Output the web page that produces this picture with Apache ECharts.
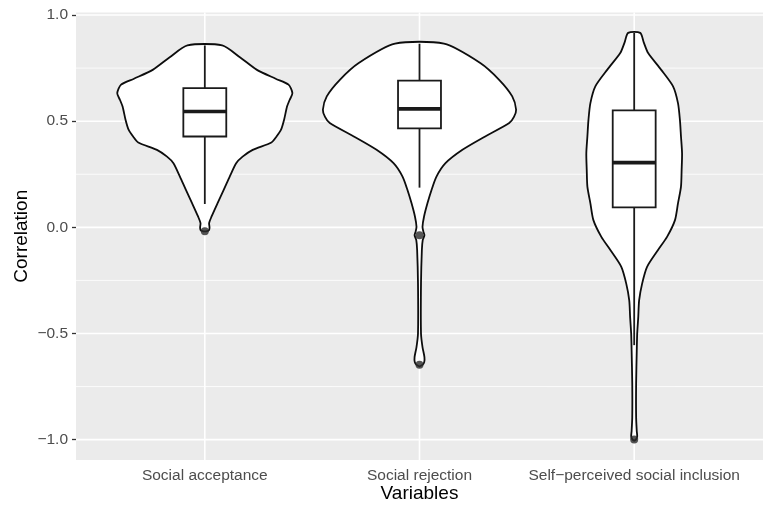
<!DOCTYPE html>
<html lang="en">
	<head>
		<meta charset="UTF-8">
		<title>Violin</title>
		<script src="https://cdn.jsdelivr.net/npm/echarts@6/dist/echarts.min.js"></script>
		<style>
			html, body { margin: 0; padding: 0; background: #fff; }
			#chart { width: 768px; height: 513px; }
		</style>
	</head>
	<body>
		<div id="chart"></div>
		<script>
			// categories and axis ticks
			const categories = ['Social acceptance', 'Social rejection', 'Self\u2212perceived social inclusion'];
			const yTicks = [-1.0, -0.5, 0.0, 0.5, 1.0];
			const yMinor = [-0.75, -0.25, 0.25, 0.75];
			const xTicks = [1, 2, 3];

			// violin outlines: [correlation, half width of density]
			const violinAcceptance = [
				[0.857, 0.081], [0.80, 0.165], [0.743, 0.241], [0.70, 0.33], [0.672, 0.39], [0.632, 0.408],
				[0.60, 0.395], [0.569, 0.383], [0.506, 0.369], [0.46, 0.355], [0.428, 0.334], [0.40, 0.31],
				[0.365, 0.223], [0.333, 0.176], [0.302, 0.146], [0.239, 0.116], [0.176, 0.088], [0.113, 0.059],
				[0.05, 0.031], [0.02, 0.02], [0.0, 0.022], [-0.012, 0.02], [-0.018, 0.01]
			];
			const violinRejection = [
				[0.865, 0.114], [0.774, 0.283], [0.695, 0.371], [0.617, 0.432], [0.554, 0.45], [0.52, 0.44],
				[0.491, 0.418], [0.428, 0.306], [0.365, 0.2], [0.302, 0.121], [0.239, 0.079], [0.176, 0.056],
				[0.113, 0.037], [0.05, 0.021], [0.003, 0.014], [-0.02, 0.018], [-0.037, 0.023], [-0.06, 0.015],
				[-0.107, 0.011], [-0.265, 0.007], [-0.5, 0.007], [-0.564, 0.014], [-0.611, 0.023], [-0.635, 0.022],
				[-0.648, 0.014], [-0.655, 0.0]
			];
			const violinInclusion = [
				[0.916, 0.028], [0.87, 0.045], [0.821, 0.065], [0.743, 0.125], [0.664, 0.181], [0.585, 0.204],
				[0.506, 0.213], [0.428, 0.218], [0.349, 0.223], [0.27, 0.221], [0.192, 0.218], [0.113, 0.204],
				[0.034, 0.19], [-0.045, 0.153], [-0.107, 0.111], [-0.186, 0.06], [-0.265, 0.037], [-0.344, 0.023],
				[-0.422, 0.019], [-0.501, 0.014], [-0.58, 0.012], [-0.736, 0.009], [-0.894, 0.009], [-0.96, 0.012],
				[-0.985, 0.014], [-1.0, 0.008], [-1.005, 0.0]
			];

			// box stats: [lower whisker, q1, median, q3, upper whisker]
			const boxAcceptance = [0.11, 0.428, 0.546, 0.656, 0.857];
			const boxRejection = [0.187, 0.466, 0.558, 0.691, 0.865];
			const boxInclusion = [-0.555, 0.094, 0.305, 0.551, 0.916];

			// outliers: [category position, correlation]
			const outliers = [[1, -0.018], [2, -0.037], [2, -0.647], [3, -1.0]];

			const violins = [violinAcceptance, violinRejection, violinInclusion];
			const boxes = [boxAcceptance, boxRejection, boxInclusion];

			const xMin = 0.4, xMax = 3.6;
			const yMin = -1.096, yMax = 1.012;
			const boxHalf = 0.1;
			const font = 'Liberation Sans, Arial, sans-serif';

			const chartDom = document.getElementById('chart');
			const chart = echarts.init(chartDom);

			function hLine(width) {
				return function (params, api) {
					const v = api.value(0);
					const a = api.coord([xMin, v]);
					const b = api.coord([xMax, v]);
					return { type: 'line', shape: { x1: a[0], y1: a[1], x2: b[0], y2: b[1] }, style: { stroke: '#fff', lineWidth: width } };
				};
			}

			const option = {
				animation: false,
				backgroundColor: '#fff',
				grid: {
					left: 76, right: 5, top: 12.5, bottom: 53,
					show: true, backgroundColor: '#EBEBEB', borderWidth: 0
				},
				xAxis: {
					type: 'value', min: xMin, max: xMax,
					name: 'Variables', nameLocation: 'middle', nameGap: 24, nameMoveOverlap: false,
					nameTextStyle: { color: '#000', fontSize: 19, fontFamily: font },
					axisLine: { show: false },
					splitLine: { show: false },
					axisTick: { show: true, customValues: xTicks, length: 4, lineStyle: { color: '#333', width: 1.3 } },
					axisLabel: {
						customValues: xTicks, margin: 8, color: '#4D4D4D', fontSize: 15.5, fontFamily: font,
						formatter: function (v) { return categories[Math.round(v) - 1]; }
					}
				},
				yAxis: {
					type: 'value', min: yMin, max: yMax,
					name: 'Correlation', nameLocation: 'middle', nameGap: 45, nameMoveOverlap: false,
					nameTextStyle: { color: '#000', fontSize: 19, fontFamily: font },
					axisLine: { show: false },
					splitLine: { show: false },
					axisTick: { show: true, customValues: yTicks, length: 4, lineStyle: { color: '#333', width: 1.3 } },
					axisLabel: {
						customValues: yTicks, margin: 8, color: '#4D4D4D', fontSize: 15.5, fontFamily: font,
						formatter: function (v) { return v.toFixed(1).replace('-', '\u2212'); }
					}
				},
				series: [
					{
						// minor horizontal grid
						type: 'custom', z: 1, silent: true,
						data: yMinor.map(function (v) { return [v]; }),
						renderItem: hLine(0.8)
					},
					{
						// major horizontal grid
						type: 'custom', z: 1, silent: true,
						data: yTicks.map(function (v) { return [v]; }),
						renderItem: hLine(1.6)
					},
					{
						// vertical grid at categories
						type: 'custom', z: 1, silent: true,
						data: xTicks.map(function (v) { return [v]; }),
						renderItem: function (params, api) {
							const c = api.value(0);
							const a = api.coord([c, yMin]);
							const b = api.coord([c, yMax]);
							return { type: 'line', shape: { x1: a[0], y1: a[1], x2: b[0], y2: b[1] }, style: { stroke: '#fff', lineWidth: 1.6 } };
						}
					},
					{
						// violins
						type: 'custom', z: 2, silent: true,
						data: xTicks.map(function (v) { return [v, 0]; }),
						renderItem: function (params, api) {
							const c = api.value(0);
							const outline = violins[params.dataIndex];
							const right = outline.map(function (p) { return api.coord([c + p[1], p[0]]); });
							const left = outline.slice().reverse().map(function (p) { return api.coord([c - p[1], p[0]]); });
							return {
								type: 'polygon',
								shape: { points: right.concat(left), smooth: 0.25 },
								style: { fill: '#fff', stroke: '#0d0d0d', lineWidth: 1.8 }
							};
						}
					},
					{
						// boxplots
						type: 'custom', z: 3, silent: true,
						data: xTicks.map(function (v) { return [v, 0]; }),
						renderItem: function (params, api) {
							const c = api.value(0);
							const s = boxes[params.dataIndex];
							const hi = api.coord([c, s[4]]);
							const q3 = api.coord([c, s[3]]);
							const q1 = api.coord([c, s[1]]);
							const lo = api.coord([c, s[0]]);
							const tl = api.coord([c - boxHalf, s[3]]);
							const br = api.coord([c + boxHalf, s[1]]);
							const ml = api.coord([c - boxHalf, s[2]]);
							const mr = api.coord([c + boxHalf, s[2]]);
							const st = { stroke: '#1a1a1a', lineWidth: 1.8 };
							return {
								type: 'group',
								children: [
									{ type: 'line', shape: { x1: hi[0], y1: hi[1], x2: q3[0], y2: q3[1] }, style: st },
									{ type: 'line', shape: { x1: q1[0], y1: q1[1], x2: lo[0], y2: lo[1] }, style: st },
									{ type: 'rect', shape: { x: tl[0], y: tl[1], width: br[0] - tl[0], height: br[1] - tl[1] }, style: { fill: '#fff', stroke: '#1a1a1a', lineWidth: 1.8 } },
									{ type: 'line', shape: { x1: ml[0], y1: ml[1], x2: mr[0], y2: mr[1] }, style: { stroke: '#1a1a1a', lineWidth: 3.6 } }
								]
							};
						}
					},
					{
						type: 'scatter', z: 4, silent: true,
						symbolSize: 8,
						itemStyle: { color: '#2b2b2b' },
						data: outliers
					}
				]
			};

			chart.setOption(option);
		</script>
	</body>
</html>
